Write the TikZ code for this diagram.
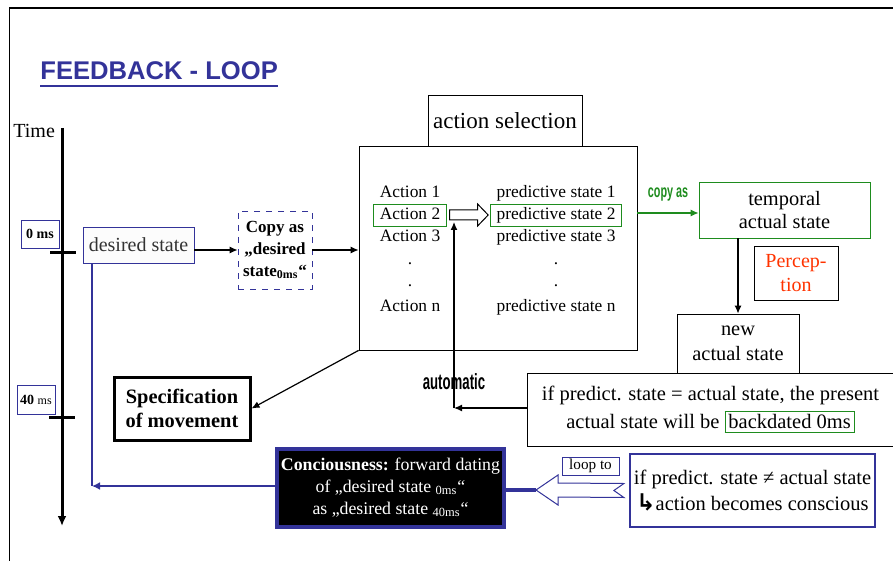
\documentclass[tikz,border=0pt]{standalone}
\usepackage{fontspec}
\setmainfont{Liberation Serif}
\newfontfamily\titlefont{Liberation Sans}
\newfontfamily\narrowfont[FakeStretch=0.6]{Liberation Sans}
\newfontfamily\symfont{DejaVu Sans}
\usepackage{xcolor}
\usepackage{tikz}
\usetikzlibrary{arrows.meta,positioning,calc}
\definecolor{loopblue}{HTML}{333399}
\definecolor{boxgreen}{HTML}{1E8C1E}
\definecolor{percred}{HTML}{FF3300}
\newcommand{\fs}[2]{\fontsize{#1}{#2}\selectfont}
\setlength{\fboxsep}{1.5pt}

\begin{document}
\begin{tikzpicture}[x=0.5pt, y=-0.5pt,
  box/.style={draw, align=center, inner sep=0pt},
  row/.style={font=\fs{8.7}{10}, text height=6.5pt, text depth=1.5pt,
    inner ysep=1.5pt, inner xsep=3pt},
  arr/.style={-{Latex[length=4pt,width=3.5pt]}, line width=0.6pt},
  blueln/.style={draw=loopblue, line width=1.4pt},
  hollow/.style={draw, fill=white, line width=0.5pt}
]
  \useasboundingbox (0,0) rectangle (893,561);
  \draw[line width=0.6pt] (893,8) -- (9.5,8) -- (9.5,561);

  \node[anchor=base west, inner sep=0pt, text=loopblue,
    font=\titlefont\bfseries\fs{12.8}{14}] (title) at (40,80) {FEEDBACK - LOOP};
  \draw[loopblue, line width=1.4pt] ([yshift=-3pt]title.base west) -- ([yshift=-3pt]title.base east);

  % time axis
  \node[anchor=base west, inner sep=0pt, font=\fs{10}{12}] (time) at (13,138) {Time};
  \coordinate (ttop) at (62,128);
  \coordinate (tbot) at (62,526);
  \draw[line width=1.5pt, -{Latex[length=5pt,width=4.5pt]}] (ttop) -- (tbot);
  \draw[line width=1.5pt] (50,252) -- (76,252);
  \draw[line width=1.5pt] (49,417) -- (75,417);
  \node[box, draw=loopblue, minimum width=19pt, minimum height=14pt,
    font=\bfseries\fs{7}{8}] (ms0) at (40,234) {0 ms};
  \node[box, draw=loopblue, minimum width=19pt, minimum height=14.5pt,
    font=\fs{7}{8}] (ms40) at (36,400) {\textbf{40} {\fs{6}{7}ms}};

  \node[box, draw=loopblue, fill=black!1, text=black!80, minimum width=55.5pt,
    minimum height=18pt, font=\fs{10}{12}] (desired) at (138.5,245) {desired state};
  \node[box, draw=loopblue, dashed, minimum width=37pt, minimum height=39pt,
    font=\bfseries\fs{8.5}{11}] (copy) at (275,250) {Copy as\\„desired\\state\textsubscript{0ms}“};
  \draw[arr] (desired.east |- copy.west) -- (copy.west);

  % action selection
  \node[box, minimum width=139pt, minimum height=102pt] (main) at (498,248) {};
  \node[box, minimum width=77pt, minimum height=25.5pt, font=\fs{11.5}{13}] (actsel) at (505,120.5) {action selection};
  \draw[arr] (copy.east) -- (copy.east -| main.west);
  \node[row] (a1) at (410,193) {Action 1};
  \node[row, draw=boxgreen] (a2) at (410,215) {Action 2};
  \node[row] (a3) at (410,237) {Action 3};
  \node[row] (a4) at (410,259) {.};
  \node[row] (a5) at (410,281) {.};
  \node[row] (an) at (410,306) {Action n};
  \node[row] (p1) at (556,193) {predictive state 1};
  \node[row, draw=boxgreen] (p2) at (556,215) {predictive state 2};
  \node[row] (p3) at (556,237) {predictive state 3};
  \node[row] (p4) at (556,259) {.};
  \node[row] (p5) at (556,281) {.};
  \node[row] (pn) at (556,306) {predictive state n};
  \draw[hollow] ($(a2.east)+(3,-5)$) -- ($(a2.east)+(31,-5)$) -- ($(a2.east)+(31,-11)$)
    -- ($(p2.west)+(-2,0)$) -- ($(a2.east)+(31,11)$) -- ($(a2.east)+(31,5)$)
    -- ($(a2.east)+(3,5)$) -- cycle;

  % perception side
  \node[box, draw=boxgreen, minimum width=85.5pt, minimum height=28pt,
    font=\fs{10.2}{11.5}] (temporal) at (784.5,210) {temporal\\actual state};
  \draw[arr, boxgreen] ([yshift=-1.5pt]temporal.west -| main.east) -- ([yshift=-1.5pt]temporal.west)
    node[midway, yshift=9pt, inner sep=0pt, text=boxgreen, font=\narrowfont\bfseries\fs{9}{10}] (copylbl) {copy as};
  \node[box, minimum width=42pt, minimum height=27pt, text=percred,
    font=\fs{10}{12}] (percep) at (796,273) {Percep-\\tion};
  \node[box, minimum width=61pt, minimum height=29.5pt,
    font=\fs{10.2}{12.5}] (newst) at (738,343.5) {new\\actual state};
  \draw[arr] (temporal.south -| newst.north) -- (newst.north);
  \node[box, fill=white, minimum width=183pt, minimum height=36.5pt,
    font=\fs{10.25}{14}] (ifeq) at (710.5,409.5)
    {if predict. state = actual state, the present\\actual state will be \fcolorbox{boxgreen}{white}{backdated 0ms}};

  \coordinate (autoc) at (454,408);
  \coordinate (autotip) at (454,222);
  \draw[arr] (ifeq.west |- autoc) -- (autoc);
  \draw[arr] (autoc) -- (autotip);
  \node[inner sep=0pt, font=\narrowfont\bfseries\fs{11}{12}] (autolbl) at (454,381.5) {automatic};

  \node[box, line width=1.5pt, fill=white, minimum width=68pt, minimum height=31.5pt,
    font=\bfseries\fs{10.2}{12}] (spec) at (182,408.5) {Specification\\of movement};
  \draw[arr] (main.south west) -- (spec.east);

  % conscious loop
  \node[box, draw=loopblue, line width=1.8pt, fill=black, text=white, minimum width=113.5pt,
    minimum height=39pt, font=\fs{8.9}{11}] (consc) at (390.5,488)
    {\textbf{Conciousness:} forward dating\\of „desired state \textsubscript{0ms}“\\as „desired state \textsubscript{40ms}“};
  \coordinate (loopc) at (92,486);
  \draw[blueln, -{Latex[length=4pt,width=4pt]}] (consc.west |- loopc) -- (loopc);
  \draw[blueln] (desired.south -| loopc) -- (loopc);

  \node[box, draw=loopblue, line width=1.1pt, minimum width=122.5pt, minimum height=36.5pt,
    font=\fs{10.25}{13}] (ifneq) at (752.5,490.5)
    {if predict. state ≠ actual state\\{\symfont\bfseries\fs{11.5}{13}↳}action becomes conscious};
  \node[box, draw=loopblue, minimum width=28.5pt, minimum height=9pt,
    font=\fs{7.6}{9}] (loopto) at (590.5,466) {loop to};
  \coordinate (looptip) at (536,490);
  \draw[loopblue, line width=1.6pt] (consc.east |- looptip) -- (looptip);
  \draw[hollow, draw=loopblue] (looptip) -- ++(22,-15) -- ++(0,8)
    -- ($(ifneq.west)+(-5,-7)$) -- ($(ifneq.west)+(-15,0)$) -- ($(ifneq.west)+(-5,7)$)
    -- ($(looptip)+(22,7)$) -- ($(looptip)+(22,15)$) -- cycle;
\end{tikzpicture}
\end{document}
